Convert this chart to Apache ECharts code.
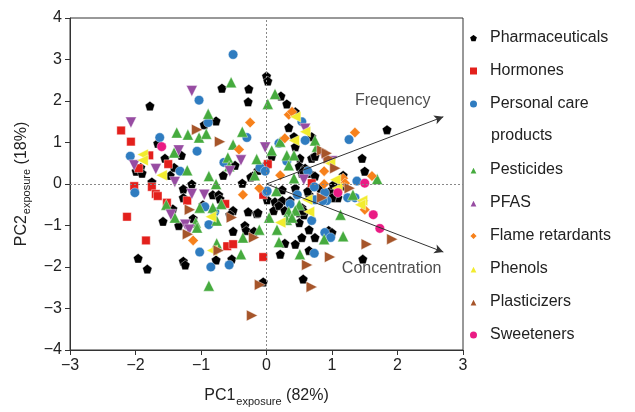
<!DOCTYPE html>
<html><head><meta charset="utf-8">
<script src="https://cdn.jsdelivr.net/npm/echarts@6/dist/echarts.min.js"></script>
<style>html,body{margin:0;padding:0;background:#fff}#c{width:635px;height:412px}</style>
</head><body><div id="c"></div>
<script>
var xTicks = [-3,-2,-1,0,1,2,3];
var yTicks = [-4,-3,-2,-1,0,1,2,3,4];
var categories = ['Pharmaceuticals','Hormones','Personal care products','Pesticides','PFAS','Flame retardants','Phenols','Plasticizers','Sweeteners'];
var pharmaceuticals = [[-1.78,1.88],[-0.68,2.31],[-0.27,2.29],[-0.28,1.98],[0.0,2.60],[0.02,2.48],[-0.77,1.52],[-0.95,1.43],[-1.66,0.98],[-1.55,0.62],[-1.92,0.40],[-1.99,0.31],[-1.90,0.26],[-1.41,0.40],[-1.47,0.21],[-0.48,0.45],[-0.66,0.21],[0.01,0.48],[-0.13,0.33],[-0.21,0.19],[-0.37,0.02],[-1.14,0.0],[-1.75,0.05],[-1.27,-0.12],[-0.82,-0.26],[-0.73,-0.26],[-0.71,-0.36],[0.01,-0.38],[-1.27,-0.33],[-0.97,-0.50],[-1.43,-0.60],[-0.51,-0.64],[-0.28,-0.67],[-0.15,-0.71],[-0.56,-0.74],[-1.12,-0.83],[-1.58,-0.90],[-1.34,-1.0],[-0.51,-1.14],[-0.33,-1.0],[-0.31,-1.12],[-0.19,-1.14],[-0.77,-1.83],[-0.53,-1.81],[-1.96,-1.79],[-1.82,-2.05],[-1.27,-1.86],[-1.24,-1.95],[-0.05,-2.36],[0.22,2.12],[0.31,1.93],[0.44,1.74],[0.34,1.36],[0.42,1.14],[0.69,1.14],[0.08,0.67],[0.51,0.62],[0.69,0.62],[0.74,0.67],[0.50,0.43],[0.59,0.38],[0.54,0.26],[0.66,0.26],[0.74,0.19],[0.82,-0.10],[0.24,-0.14],[0.13,-0.43],[0.24,-0.40],[0.36,-0.40],[0.65,-0.26],[0.11,-0.64],[0.19,-0.52],[0.54,-0.57],[0.50,-0.69],[0.57,-0.74],[0.50,-0.93],[0.65,-1.10],[0.54,-1.29],[0.74,-1.29],[0.95,-1.12],[0.28,-1.43],[0.44,-1.45],[0.21,-1.69],[0.65,-1.60],[0.56,-2.29],[1.46,0.62],[1.50,0.31],[1.84,1.31],[1.47,-1.81],[1.0,-1.17],[1.15,-0.05],[1.17,0.21],[1.09,-0.33],[0.44,-0.10],[0.63,-0.17],[0.97,-0.17],[1.0,-0.33],[0.28,-0.64],[-0.13,-0.69],[0.56,-0.64],[-1.30,0.69],[1.02,-0.02],[0.44,0.90],[0.56,0.31],[-0.24,0.17]];
var hormones = [[-2.22,1.29],[-2.07,1.02],[-1.95,0.38],[-1.79,0.69],[-1.50,0.48],[-2.02,-0.05],[-1.75,-0.07],[-1.69,-0.24],[-1.66,-0.29],[-1.52,-0.45],[-2.13,-0.79],[-1.84,-1.36],[-1.21,-0.40],[-0.63,-0.48],[-0.60,-1.50],[-0.51,-1.45],[-0.05,-1.76],[-0.05,-0.26],[0.02,0.48],[0.69,0.02]];
var personalCare = [[-0.51,3.12],[-1.03,2.02],[-0.89,1.48],[-1.63,1.12],[-2.08,0.67],[-1.06,0.79],[-0.30,1.12],[-1.32,0.31],[-0.65,0.52],[-0.10,0.40],[-0.02,0.31],[-2.01,-0.21],[0.0,-0.19],[-0.94,-0.55],[-0.79,-0.67],[-0.88,-0.98],[-1.02,-1.64],[-0.85,-2.0],[-0.57,-1.95],[0.54,1.50],[0.19,0.98],[0.59,1.05],[0.31,0.55],[0.73,-0.07],[0.01,-0.17],[0.47,-0.26],[0.74,-0.38],[0.92,-0.40],[0.36,-0.48],[0.69,-0.88],[0.89,-1.17],[0.98,-1.29],[0.73,-1.67],[1.26,1.07],[1.38,0.07],[1.24,-0.33],[1.35,-0.33],[0.86,-0.40],[0.63,0.31],[0.89,-0.21]];
var pesticides = [[-0.54,2.45],[0.02,1.93],[0.13,2.17],[-0.89,1.69],[-1.37,1.24],[-1.20,1.19],[-1.03,1.12],[-0.92,1.21],[-0.37,1.26],[-0.51,0.95],[-1.41,0.76],[-0.59,0.64],[-0.57,0.43],[-1.21,0.33],[-0.88,0.19],[-0.15,0.60],[-0.18,0.21],[-0.77,0.0],[-1.53,-0.50],[-1.40,-0.81],[-1.02,-0.57],[-0.69,-0.48],[-0.82,-0.57],[-0.76,-0.88],[-1.08,-0.93],[-1.06,-1.05],[-0.11,-1.10],[-0.36,-1.29],[-0.76,-1.43],[-0.39,-1.69],[-0.88,-2.45],[0.21,1.02],[0.08,0.81],[0.31,0.69],[0.42,0.69],[0.77,0.90],[0.74,1.05],[0.34,0.45],[0.42,0.14],[0.15,-0.17],[0.50,-0.50],[0.04,-0.81],[0.34,-0.67],[0.44,-0.64],[0.31,-0.86],[0.16,-1.10],[0.88,-1.33],[0.19,-1.40],[0.51,-1.69],[1.13,-0.74],[1.17,-1.26],[1.69,0.12],[1.32,-0.26],[0.39,-0.81]];
var pfas = [[-1.14,2.24],[-2.07,1.48],[-1.34,0.81],[-2.02,0.45],[-1.69,0.36],[-0.39,0.57],[-0.56,0.31],[-0.02,0.88],[-1.40,0.05],[-1.14,-0.24],[-0.95,-0.26],[-1.46,-0.74],[-1.24,-0.98],[-1.18,-1.10],[0.59,1.33],[0.57,0.10],[1.0,0.55],[1.47,-0.52],[0.89,0.62]];
var flameRetardants = [[-0.25,1.48],[-0.42,0.83],[-0.36,-0.26],[-0.11,-0.10],[-1.12,-1.36],[0.34,1.67],[0.28,1.10],[0.21,0.21],[0.88,0.31],[0.88,0.0],[1.35,1.24],[1.61,0.19],[1.17,0.14],[1.50,-0.62],[1.20,0.02],[0.39,1.74]];
var phenols = [[-1.89,0.71],[-1.89,0.57],[-1.60,0.21],[-0.85,-0.79],[-0.83,-1.60],[0.44,1.62],[0.59,1.26],[0.42,1.05],[1.05,0.10],[0.97,0.50],[0.62,-0.38],[0.65,-0.67],[0.21,-0.93],[1.46,-0.40],[1.08,-0.10],[1.43,-0.50]];
var plasticizers = [[-1.06,1.31],[-0.71,1.02],[-1.17,-0.62],[-0.53,-0.81],[-1.20,-1.21],[-0.73,-1.60],[-0.19,-1.29],[-0.10,-2.43],[-0.22,-3.17],[0.85,0.81],[0.95,0.62],[1.05,0.38],[1.27,-0.10],[0.85,-0.33],[0.62,-1.95],[0.97,-1.76],[0.69,-2.48],[1.53,-1.45],[1.92,-1.33],[0.92,0.74]];
var sweeteners = [[-1.60,0.90],[1.50,0.02],[1.09,-0.21],[1.63,-0.74],[1.73,-1.07]];
var arrowEnds = {Frequency:[2.7,1.62], Concentration:[2.7,-1.64]};
var arrowLabels = [{name:'Frequency', value:[1.35,2.02]},{name:'Concentration', value:[1.15,-2.04]}];

var FONT = 'Liberation Sans, Arial, sans-serif';
var pent = 'path://M0,-10 L9.51,-3.09 L5.88,8.09 L-5.88,8.09 L-9.51,-3.09 Z';
var seriesData = [pharmaceuticals,hormones,personalCare,pesticides,pfas,flameRetardants,phenols,plasticizers,sweeteners];
var styles = [
  {symbol:pent, size:9.5, rot:0, color:'#000000'},
  {symbol:'rect', size:8.5, rot:0, color:'#e3201c'},
  {symbol:'circle', size:9.5, rot:0, color:'#2f7cc0'},
  {symbol:'triangle', size:11, rot:0, color:'#46ab3e'},
  {symbol:'triangle', size:11, rot:180, color:'#974ca2'},
  {symbol:'diamond', size:10.5, rot:0, color:'#f7811b'},
  {symbol:'triangle', size:11, rot:90, color:'#f2ec2e'},
  {symbol:'triangle', size:11, rot:-90, color:'#a6552a'},
  {symbol:'circle', size:9.5, rot:0, color:'#ea1b84'}
];
var series = categories.map(function(n,i){
  var s = styles[i];
  return {name:n, type:'scatter', data:seriesData[i], symbol:s.symbol, symbolSize:s.size, symbolRotate:s.rot,
    itemStyle:{color:s.color, opacity:1, borderColor:'#ffffff', borderWidth:0.4}, z:3};
});
series.push({
  name:'_ref', type:'scatter', data:[], silent:true, z:1,
  markLine:{silent:true, symbol:['none','none'], animation:false,
    lineStyle:{color:'#888', type:[2,2], width:1},
    label:{show:false},
    data:[{xAxis:0},{yAxis:0}]}
});
series.push({
  name:'_arrows', type:'scatter', data:[], silent:true, z:4,
  markLine:{silent:true, symbol:['none','arrow'], symbolSize:[7,9], animation:false,
    lineStyle:{color:'#333', type:'solid', width:1},
    label:{show:false},
    data:[[{coord:[0,0]},{coord:arrowEnds.Frequency}],[{coord:[0,0]},{coord:arrowEnds.Concentration}]]}
});
series.push({
  name:'_labels', type:'scatter', data:arrowLabels, symbolSize:0, silent:true, z:5,
  label:{show:true, position:'right', distance:0, formatter:function(p){return p.name;}, fontFamily:FONT, fontSize:16, color:'#222'}
});

var chart = echarts.init(document.getElementById('c'));
var legendCommon = {orient:'vertical', left:463, itemWidth:9, itemHeight:9, itemGap:15,
  textStyle:{fontFamily:FONT, fontSize:16, color:'#222', lineHeight:18, padding:[0,0,0,7]}};
chart.setOption({
  animation:false,
  grid:{left:70, right:172, top:18, bottom:58, show:true, borderColor:'#333', borderWidth:1},
  xAxis:{type:'value', min:xTicks[0], max:xTicks[xTicks.length-1], interval:1,
    axisLine:{onZero:false, lineStyle:{color:'#333'}}, axisTick:{show:true, length:5, lineStyle:{color:'#333'}},
    splitLine:{show:false},
    axisLabel:{fontFamily:FONT, fontSize:16, color:'#222', margin:8, formatter:function(v){return String(v).replace('-','\u2212');}},
    name:'{a|PC1}{s|exposure}{a| (82%)}', nameLocation:'middle', nameGap:35,
    nameTextStyle:{rich:{a:{fontFamily:FONT, fontSize:16, color:'#222'}, s:{fontFamily:FONT, fontSize:11, color:'#222', padding:[11,0,0,1]}}}},
  yAxis:{type:'value', min:yTicks[0], max:yTicks[yTicks.length-1], interval:1,
    axisLine:{onZero:false, lineStyle:{color:'#333'}}, axisTick:{show:true, length:5, lineStyle:{color:'#333'}},
    splitLine:{show:false},
    axisLabel:{fontFamily:FONT, fontSize:16, color:'#222', margin:8, formatter:function(v){return String(v).replace('-','\u2212');}},
    name:'{a|PC2}{s|exposure}{a| (18%)}', nameLocation:'middle', nameGap:36,
    nameTextStyle:{rich:{a:{fontFamily:FONT, fontSize:16, color:'#222'}, s:{fontFamily:FONT, fontSize:11, color:'#222', padding:[11,0,0,1]}}}},
  legend:[
    Object.assign({}, legendCommon, {top:24, data:categories.slice(0,3),
      formatter:function(n){return n==='Personal care products'?'Personal care':n;}}),
    Object.assign({}, legendCommon, {top:156, data:categories.slice(3)})
  ],
  graphic:[{type:'text', left:491, top:128, style:{text:'products', fontFamily:FONT, fontSize:16, fill:'#222'}}],
  series:series
});
</script></body></html>
